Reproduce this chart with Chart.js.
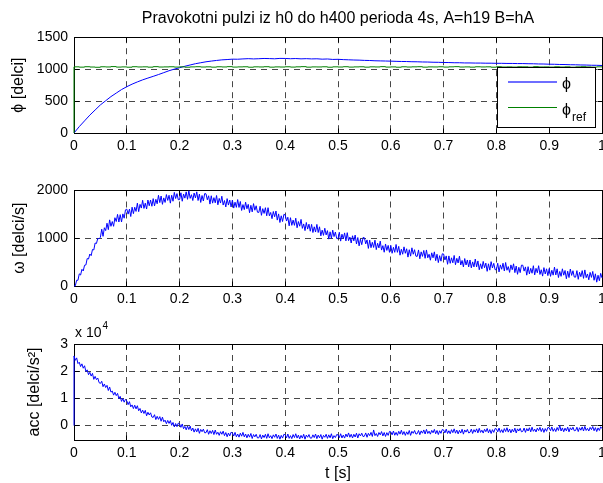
<!DOCTYPE html>
<html><head><meta charset="utf-8">
<script src="https://cdn.jsdelivr.net/npm/chart.js@4/dist/chart.umd.min.js"></script>
<style>
html,body{margin:0;padding:0;background:#fff;}
#wrap{position:relative;width:603px;height:483px;background:#fff;}
canvas{position:absolute;left:0;}
</style></head><body>
<div id="wrap">
<canvas id="c1" width="603" height="160" style="top:0px;width:603px;height:160px"></canvas>
<canvas id="c2" width="603" height="150" style="top:160px;width:603px;height:150px"></canvas>
<canvas id="c3" width="603" height="173" style="top:310px;width:603px;height:173px"></canvas>
</div>
<script>
// ---------- data ----------
const chartTitle = 'Pravokotni pulzi iz h0 do h400 perioda 4s, A=h19 B=hA';
const xTicks = [0,0.1,0.2,0.3,0.4,0.5,0.6,0.7,0.8,0.9,1];
const xTickLabels = ['0','0.1','0.2','0.3','0.4','0.5','0.6','0.7','0.8','0.9','1'];
const phiTicks = [0,500,1000,1500];
const phiTickLabels = ['0','500','1000','1500'];
const omegaTicks = [0,1000,2000];
const omegaTickLabels = ['0','1000','2000'];
const accTicks = [0,1,2,3];
const accTickLabels = ['0','1','2','3'];

// time base for phi / phi_ref [s]
const tCoarse = [0,
0.01,0.02,0.03,0.04,0.05,0.06,0.07,0.08,0.09,0.1,
0.11,0.12,0.13,0.14,0.15,0.16,0.17,0.18,0.19,0.2,
0.21,0.22,0.23,0.24,0.25,0.26,0.27,0.28,0.29,0.3,
0.31,0.32,0.33,0.34,0.35,0.36,0.37,0.38,0.39,0.4,
0.41,0.42,0.43,0.44,0.45,0.46,0.47,0.48,0.49,0.5,
0.51,0.52,0.53,0.54,0.55,0.56,0.57,0.58,0.59,0.6,
0.61,0.62,0.63,0.64,0.65,0.66,0.67,0.68,0.69,0.7,
0.71,0.72,0.73,0.74,0.75,0.76,0.77,0.78,0.79,0.8,
0.81,0.82,0.83,0.84,0.85,0.86,0.87,0.88,0.89,0.9,
0.91,0.92,0.93,0.94,0.95,0.96,0.97,0.98,0.99,1];

const phi = [0,
100,190,280,360,440,505,570,625,680,725,
765,800,832,860,887,915,945,975,1000,1022,
1045,1065,1085,1100,1115,1126,1136,1145,1150,1156,
1155,1160,1164,1160,1163,1167,1165,1162,1168,1167,
1163,1166,1161,1164,1160,1162,1156,1159,1152,1154,
1149,1146,1143,1141,1137,1135,1131,1129,1127,1125,
1122,1120,1119,1116,1115,1112,1111,1108,1107,1104,
1103,1100,1100,1097,1097,1095,1095,1093,1093,1091,
1091,1089,1089,1087,1087,1085,1084,1081,1080,1077,
1076,1073,1072,1069,1068,1065,1064,1061,1060,1057];

const phiRef = [0,
1036,1031,1038,1033,1029,1037,1034,1040,1032,1035,
1030,1038,1034,1036,1031,1039,1033,1035,1037,1032,
1036,1030,1035,1038,1033,1036,1031,1037,1034,1039,
1032,1035,1037,1030,1036,1034,1038,1031,1035,1033,
1037,1032,1036,1039,1031,1035,1034,1037,1030,1036,
1033,1038,1032,1035,1037,1031,1036,1034,1039,1032,
1035,1030,1037,1033,1036,1038,1031,1035,1034,1037,
1032,1036,1039,1033,1035,1031,1037,1034,1036,1030,
1038,1033,1035,1032,1037,1036,1031,1039,1034,1035,
1032,1037,1033,1036,1030,1035,1038,1034,1031,1036];

// time base for omega / acc [s]
const tFine = [
0,0.0025,0.005,0.0075,0.01,0.0125,0.015,0.0175,0.02,0.0225,0.025,0.0275,0.03,0.0325,0.035,0.0375,0.04,0.0425,0.045,0.0475,
0.05,0.0525,0.055,0.0575,0.06,0.0625,0.065,0.0675,0.07,0.0725,0.075,0.0775,0.08,0.0825,0.085,0.0875,0.09,0.0925,0.095,0.0975,
0.1,0.1025,0.105,0.1075,0.11,0.1125,0.115,0.1175,0.12,0.1225,0.125,0.1275,0.13,0.1325,0.135,0.1375,0.14,0.1425,0.145,0.1475,
0.15,0.1525,0.155,0.1575,0.16,0.1625,0.165,0.1675,0.17,0.1725,0.175,0.1775,0.18,0.1825,0.185,0.1875,0.19,0.1925,0.195,0.1975,
0.2,0.2025,0.205,0.2075,0.21,0.2125,0.215,0.2175,0.22,0.2225,0.225,0.2275,0.23,0.2325,0.235,0.2375,0.24,0.2425,0.245,0.2475,
0.25,0.2525,0.255,0.2575,0.26,0.2625,0.265,0.2675,0.27,0.2725,0.275,0.2775,0.28,0.2825,0.285,0.2875,0.29,0.2925,0.295,0.2975,
0.3,0.3025,0.305,0.3075,0.31,0.3125,0.315,0.3175,0.32,0.3225,0.325,0.3275,0.33,0.3325,0.335,0.3375,0.34,0.3425,0.345,0.3475,
0.35,0.3525,0.355,0.3575,0.36,0.3625,0.365,0.3675,0.37,0.3725,0.375,0.3775,0.38,0.3825,0.385,0.3875,0.39,0.3925,0.395,0.3975,
0.4,0.4025,0.405,0.4075,0.41,0.4125,0.415,0.4175,0.42,0.4225,0.425,0.4275,0.43,0.4325,0.435,0.4375,0.44,0.4425,0.445,0.4475,
0.45,0.4525,0.455,0.4575,0.46,0.4625,0.465,0.4675,0.47,0.4725,0.475,0.4775,0.48,0.4825,0.485,0.4875,0.49,0.4925,0.495,0.4975,
0.5,0.5025,0.505,0.5075,0.51,0.5125,0.515,0.5175,0.52,0.5225,0.525,0.5275,0.53,0.5325,0.535,0.5375,0.54,0.5425,0.545,0.5475,
0.55,0.5525,0.555,0.5575,0.56,0.5625,0.565,0.5675,0.57,0.5725,0.575,0.5775,0.58,0.5825,0.585,0.5875,0.59,0.5925,0.595,0.5975,
0.6,0.6025,0.605,0.6075,0.61,0.6125,0.615,0.6175,0.62,0.6225,0.625,0.6275,0.63,0.6325,0.635,0.6375,0.64,0.6425,0.645,0.6475,
0.65,0.6525,0.655,0.6575,0.66,0.6625,0.665,0.6675,0.67,0.6725,0.675,0.6775,0.68,0.6825,0.685,0.6875,0.69,0.6925,0.695,0.6975,
0.7,0.7025,0.705,0.7075,0.71,0.7125,0.715,0.7175,0.72,0.7225,0.725,0.7275,0.73,0.7325,0.735,0.7375,0.74,0.7425,0.745,0.7475,
0.75,0.7525,0.755,0.7575,0.76,0.7625,0.765,0.7675,0.77,0.7725,0.775,0.7775,0.78,0.7825,0.785,0.7875,0.79,0.7925,0.795,0.7975,
0.8,0.8025,0.805,0.8075,0.81,0.8125,0.815,0.8175,0.82,0.8225,0.825,0.8275,0.83,0.8325,0.835,0.8375,0.84,0.8425,0.845,0.8475,
0.85,0.8525,0.855,0.8575,0.86,0.8625,0.865,0.8675,0.87,0.8725,0.875,0.8775,0.88,0.8825,0.885,0.8875,0.89,0.8925,0.895,0.8975,
0.9,0.9025,0.905,0.9075,0.91,0.9125,0.915,0.9175,0.92,0.9225,0.925,0.9275,0.93,0.9325,0.935,0.9375,0.94,0.9425,0.945,0.9475,
0.95,0.9525,0.955,0.9575,0.96,0.9625,0.965,0.9675,0.97,0.9725,0.975,0.9775,0.98,0.9825,0.985,0.9875,0.99,0.9925,0.995,0.9975,
1];

const omega = [
0,5,120,120,255,230,350,315,435,440,575,565,670,635,765,755,900,890,995,990,
1020,1190,1040,1220,1160,1315,1180,1385,1250,1350,1250,1430,1350,1500,1340,1495,1340,1510,1420,1595,
1610,1505,1610,1455,1650,1515,1650,1562,1735,1557,1710,1632,1795,1625,1735,1612,1800,1680,1800,1670,
1830,1677,1815,1722,1900,1747,1885,1710,1845,1750,1915,1792,1900,1735,1900,1775,1960,1832,1935,1807,
1810,1952,1775,1927,1840,1972,1815,1995,1835,1912,1790,1947,1845,1972,1790,1925,1750,1895,1780,1935,
1930,1805,1890,1715,1890,1735,1850,1742,1895,1700,1835,1737,1880,1695,1790,1655,1830,1695,1800,1655,
1800,1632,1755,1647,1810,1645,1770,1582,1705,1600,1755,1617,1710,1535,1690,1552,1725,1587,1680,1545,
1540,1670,1480,1620,1520,1640,1470,1640,1470,1540,1410,1560,1450,1570,1380,1510,1330,1470,1350,1500,
1490,1360,1440,1260,1430,1270,1380,1270,1420,1220,1350,1252,1395,1207,1300,1160,1330,1192,1295,1147,
1290,1120,1240,1130,1290,1120,1240,1050,1170,1060,1210,1070,1160,982,1135,997,1170,1035,1130,995,
990,1125,940,1085,990,1112,945,1117,950,1025,900,1052,945,1067,880,1015,840,982,865,1017,
1010,882,965,787,960,802,915,807,960,762,895,797,940,752,845,707,880,745,850,705,
850,685,810,705,870,705,830,645,770,665,820,685,780,605,760,625,800,665,760,625,
620,755,570,715,620,745,580,755,590,665,540,695,590,715,530,665,490,635,520,675,
670,545,630,455,630,475,590,485,640,445,580,482,625,440,535,400,575,440,545,400,
545,380,505,400,565,400,525,340,465,360,515,382,480,307,465,332,510,377,475,342,
340,477,295,442,350,477,315,492,330,407,285,442,340,465,280,417,245,392,280,437,
435,312,400,227,405,252,370,267,425,232,370,277,425,242,340,207,385,252,360,217,
365,202,330,227,395,232,360,177,305,202,360,227,325,152,310,177,355,222,320,187,
185,322,140,287,195,322,160,337,175,252,130,285,180,305,120,255,80,225,110,265,
170];

// acceleration in units of 10^4 delci/s^2 (logged signal starts at 0 at t = 0)
const accStart = 0;
const accE4 = [
2.56,2.40,2.49,2.28,2.33,2.17,2.27,2.11,2.20,1.99,2.05,1.87,1.96,1.82,1.92,1.70,1.81,1.69,1.75,1.58,
1.55,1.63,1.43,1.53,1.40,1.48,1.29,1.42,1.23,1.27,1.12,1.225,1.10,1.185,0.99,1.075,0.89,0.995,0.86,0.965,
0.91,0.77,0.88,0.69,0.76,0.625,0.75,0.615,0.73,0.545,0.63,0.465,0.57,0.445,0.56,0.36,0.49,0.39,0.47,0.315,
0.30,0.40,0.22,0.34,0.23,0.33,0.16,0.31,0.14,0.20,0.07,0.19,0.08,0.185,0.01,0.115,-0.05,0.075,-0.04,0.09,
0.06,-0.065,0.06,-0.115,-0.03,-0.155,-0.02,-0.145,-0.02,-0.19,-0.09,-0.24,-0.12,-0.23,-0.10,-0.285,-0.14,-0.225,-0.13,-0.265,
-0.26,-0.15,-0.32,-0.19,-0.29,-0.175,-0.33,-0.165,-0.32,-0.245,-0.36,-0.225,-0.32,-0.205,-0.37,-0.255,-0.41,-0.275,-0.38,-0.245,
-0.27,-0.385,-0.25,-0.41,-0.31,-0.425,-0.28,-0.39,-0.25,-0.415,-0.31,-0.45,-0.32,-0.425,-0.29,-0.475,-0.33,-0.415,-0.32,-0.455,
-0.45,-0.33,-0.49,-0.35,-0.44,-0.32,-0.47,-0.30,-0.45,-0.37,-0.48,-0.34,-0.43,-0.31,-0.47,-0.35,-0.50,-0.36,-0.46,-0.32,
-0.34,-0.45,-0.31,-0.47,-0.37,-0.48,-0.33,-0.44,-0.30,-0.46,-0.35,-0.49,-0.36,-0.46,-0.32,-0.50,-0.35,-0.43,-0.33,-0.46,
-0.46,-0.34,-0.44,-0.31,-0.48,-0.35,-0.45,-0.33,-0.50,-0.36,-0.43,-0.32,-0.47,-0.34,-0.45,-0.30,-0.48,-0.37,-0.44,-0.33,
-0.34,-0.445,-0.30,-0.455,-0.35,-0.46,-0.31,-0.415,-0.27,-0.43,-0.32,-0.455,-0.32,-0.42,-0.28,-0.455,-0.30,-0.38,-0.28,-0.405,
-0.39,-0.27,-0.43,-0.285,-0.37,-0.25,-0.40,-0.16,-0.37,-0.29,-0.40,-0.255,-0.34,-0.22,-0.38,-0.255,-0.40,-0.26,-0.36,-0.215,
-0.23,-0.34,-0.20,-0.355,-0.25,-0.36,-0.21,-0.315,-0.17,-0.33,-0.22,-0.36,-0.23,-0.325,-0.18,-0.36,-0.21,-0.285,-0.18,-0.31,
-0.30,-0.18,-0.335,-0.195,-0.28,-0.16,-0.31,-0.14,-0.29,-0.205,-0.315,-0.175,-0.265,-0.14,-0.30,-0.18,-0.33,-0.19,-0.285,-0.145,
-0.16,-0.27,-0.13,-0.29,-0.19,-0.30,-0.15,-0.26,-0.12,-0.28,-0.165,-0.305,-0.175,-0.275,-0.135,-0.315,-0.16,-0.24,-0.14,-0.27,
-0.25,-0.13,-0.29,-0.15,-0.24,-0.12,-0.27,-0.10,-0.25,-0.17,-0.275,-0.135,-0.225,-0.105,-0.265,-0.145,-0.29,-0.15,-0.25,-0.11,
-0.12,-0.23,-0.09,-0.25,-0.15,-0.26,-0.11,-0.22,-0.08,-0.24,-0.125,-0.265,-0.135,-0.235,-0.095,-0.27,-0.12,-0.20,-0.10,-0.23,
-0.21,-0.09,-0.25,-0.11,-0.20,-0.08,-0.23,-0.06,-0.21,-0.13,-0.235,-0.095,-0.185,-0.065,-0.22,-0.10,-0.25,-0.11,-0.21,-0.07,
-0.08,-0.19,-0.05,-0.21,-0.11,-0.22,-0.07,-0.18,0.01,-0.20,-0.085,-0.225,-0.095,-0.195,-0.055,-0.23,-0.08,-0.16,-0.06,-0.19,
-0.18,-0.06,-0.22,-0.08,-0.17,-0.05,-0.20,-0.03,-0.18,-0.10,-0.20,-0.065,-0.15,-0.035,-0.19,-0.075,-0.22,-0.085,-0.18,-0.045,
-0.11];

// ---------- styling ----------
const FONT = '"Liberation Sans", Arial, Helvetica, sans-serif';
const GRID = 'rgba(0,0,0,0.72)';
const DASH = [6,5];
const BLUE = '#0000ff';
const GREEN = '#008000';

function pts(t, v) { return t.map((x, i) => ({x: x, y: v[i]})); }

function alignPx(p) { return Math.round(p - 0.5) + 0.5; }

const framePlugin = {
  id: 'frame',
  beforeDatasetsDraw(chart) {
    const {ctx, chartArea: a, scales: {x, y}} = chart;
    const L = alignPx(a.left), R = alignPx(a.right), T = alignPx(a.top), B = alignPx(a.bottom);
    ctx.save();
    ctx.setLineDash([]);
    ctx.strokeStyle = '#000';
    ctx.lineWidth = 1;
    ctx.strokeRect(L, T, R - L, B - T);
    ctx.beginPath();
    x.ticks.forEach(tk => {
      const p = alignPx(x.getPixelForValue(tk.value));
      ctx.moveTo(p, B); ctx.lineTo(p, B - 5);
      ctx.moveTo(p, T); ctx.lineTo(p, T + 5);
    });
    y.ticks.forEach(tk => {
      const p = alignPx(y.getPixelForValue(tk.value));
      ctx.moveTo(L, p); ctx.lineTo(L + 5, p);
      ctx.moveTo(R, p); ctx.lineTo(R - 5, p);
    });
    ctx.stroke();
    ctx.restore();
  }
};

const legendPlugin = {
  id: 'matlabLegend',
  afterDatasetsDraw(chart) {
    const ctx = chart.ctx;
    ctx.save();
    ctx.setLineDash([]);
    ctx.globalAlpha = 1;
    ctx.fillStyle = '#ffffff';
    ctx.fillRect(497, 67, 99, 61);
    ctx.strokeStyle = '#000000';
    ctx.lineWidth = 1;
    ctx.strokeRect(497.5, 67.5, 98, 60);
    ctx.fillStyle = 'rgb(110,110,255)';
    ctx.fillRect(508, 81, 49, 2);
    ctx.fillStyle = 'rgb(0,128,0)';
    ctx.fillRect(508, 107, 49, 1);
    ctx.fillStyle = '#000000';
    ctx.textBaseline = 'alphabetic';
    ctx.textAlign = 'left';
    ctx.font = '16px ' + FONT;
    ctx.fillText('\u03D5', 562, 89);
    ctx.fillText('\u03D5', 562, 115);
    ctx.font = '12px ' + FONT;
    ctx.fillText('ref', 572, 121);
    ctx.restore();
  }
};

const exponentPlugin = {
  id: 'exponent',
  afterDraw(chart) {
    const ctx = chart.ctx;
    ctx.save();
    ctx.fillStyle = '#000';
    ctx.textBaseline = 'alphabetic';
    ctx.textAlign = 'left';
    ctx.font = '14px ' + FONT;
    ctx.fillText('x 10', 75, 27);
    const w = ctx.measureText('x 10').width;
    ctx.font = '10px ' + FONT;
    ctx.fillText('4', 75 + w + 1, 19);
    ctx.restore();
  }
};

function xScale(height, title) {
  return {
    type: 'linear', min: 0, max: 1,
    afterBuildTicks: s => { s.ticks = xTicks.map(v => ({value: v})); },
    afterFit: s => { s.height = height; s.paddingLeft = 0; s.paddingRight = 0; },
    ticks: {autoSkip: false, maxRotation: 0, minRotation: 0, padding: 5, color: '#000',
            font: {family: FONT, size: 14}, callback: (v, i) => xTickLabels[i]},
    grid: {color: GRID, drawTicks: false, lineWidth: 1},
    border: {display: false, dash: DASH},
    title: title ? {display: true, text: title, color: '#000', font: {family: FONT, size: 16},
                    padding: {top: 0, bottom: 0}} : {display: false}
  };
}

function yScale(min, max, ticks, labels, title, titlePad) {
  return {
    type: 'linear', min: min, max: max,
    afterBuildTicks: s => { s.ticks = ticks.map(v => ({value: v})); },
    afterFit: s => { s.width = 74; },
    ticks: {padding: 6, color: '#000', font: {family: FONT, size: 14}, callback: (v, i) => labels[i]},
    grid: {color: GRID, drawTicks: false, lineWidth: 1},
    border: {display: false, dash: DASH},
    title: {display: true, text: title, color: '#000', font: {family: FONT, size: 16},
            padding: {top: titlePad, bottom: 0}}
  };
}

function baseOptions(padTop, xs, ys, extraPlugins) {
  return {
    responsive: false,
    animation: false,
    devicePixelRatio: 1,
    layout: {padding: {top: padTop, right: 1, left: 0, bottom: 0}, autoPadding: false},
    elements: {point: {radius: 0}, line: {tension: 0, borderWidth: 1}},
    plugins: Object.assign({legend: {display: false}, tooltip: {enabled: false}}, extraPlugins || {}),
    scales: {x: xs, y: ys}
  };
}

// ---------- chart 1: phi ----------
const opt1 = baseOptions(0, xScale(27), yScale(0, 1500, phiTicks, phiTickLabels, '\u03D5 [delci]', 9.4), {
  title: {display: true, text: chartTitle, fullSize: false, color: '#000',
          font: {family: FONT, size: 16, weight: 'normal'}, padding: {top: 9, bottom: 9}}
});
new Chart(document.getElementById('c1'), {
  type: 'line',
  data: {datasets: [
    {label: '\u03D5 ref', data: pts(tCoarse, phiRef), borderColor: GREEN, stepped: 'after', clip: 2, order: 1},
    {label: '\u03D5', data: pts(tCoarse, phi), borderColor: BLUE, clip: 2, order: 2}
  ]},
  options: opt1,
  plugins: [framePlugin, legendPlugin]
});

// ---------- chart 2: omega ----------
new Chart(document.getElementById('c2'), {
  type: 'line',
  data: {datasets: [
    {label: '\u03C9', data: pts(tFine, omega), borderColor: BLUE, clip: 2}
  ]},
  options: baseOptions(30.5, xScale(24), yScale(0, 2000, omegaTicks, omegaTickLabels, '\u03C9 [delci/s]', 10.4)),
  plugins: [framePlugin]
});

// ---------- chart 3: acc ----------
new Chart(document.getElementById('c3'), {
  type: 'line',
  data: {datasets: [
    {label: 'acc', data: [{x: 0, y: accStart}].concat(pts(tFine, accE4)), borderColor: BLUE, clip: 2}
  ]},
  options: baseOptions(34, xScale(43, 't [s]'), yScale(-0.53, 3, accTicks, accTickLabels, 'acc [delci/s\u00B2]', 25.4)),
  plugins: [framePlugin, exponentPlugin]
});
</script>
</body></html>
